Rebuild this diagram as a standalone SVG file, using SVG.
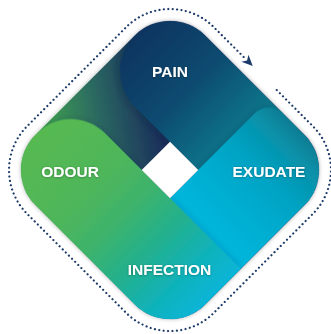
<svg xmlns="http://www.w3.org/2000/svg" width="331" height="334" viewBox="0 0 331 334">
<defs>
<style>
.lbl{font-family:"Liberation Sans",Arial,Helvetica,sans-serif;font-weight:bold;font-size:15.5px;fill:#fff;text-anchor:middle;filter:url(#ts)}
.dots{fill:none;stroke:#1c3a6a;stroke-width:2.2;stroke-linecap:round;stroke-dasharray:0 4.4}
</style>
<linearGradient id="gLeft" gradientUnits="userSpaceOnUse" x1="50" y1="215" x2="110" y2="130">
<stop offset="0" stop-color="#3b9753"/>
<stop offset="0.45" stop-color="#2a6662"/>
<stop offset="1" stop-color="#1a2e5a"/>
</linearGradient>
<linearGradient id="gPain" gradientUnits="userSpaceOnUse" x1="50" y1="0" x2="200" y2="0">
<stop offset="0" stop-color="#0f3560"/>
<stop offset="0.5" stop-color="#0b4a70"/>
<stop offset="1" stop-color="#077a8d"/>
</linearGradient>
<linearGradient id="gExu" gradientUnits="userSpaceOnUse" x1="0" y1="50" x2="0" y2="190">
<stop offset="0" stop-color="#077c92"/>
<stop offset="0.14" stop-color="#0890a8"/>
<stop offset="0.4" stop-color="#02a2c2"/>
<stop offset="0.72" stop-color="#00afd2"/>
<stop offset="1" stop-color="#00b6dd"/>
</linearGradient>
<linearGradient id="gBot" gradientUnits="userSpaceOnUse" x1="50" y1="0" x2="290" y2="0">
<stop offset="0" stop-color="#56b950"/>
<stop offset="0.33" stop-color="#4eb65b"/>
<stop offset="0.5" stop-color="#3db36c"/>
<stop offset="0.67" stop-color="#24b08c"/>
<stop offset="0.83" stop-color="#12b2b5"/>
<stop offset="1" stop-color="#06b5d8"/>
</linearGradient>
<clipPath id="clipD"><rect x="50" y="50" width="240" height="240" rx="50"/></clipPath>
<filter id="outerSh" x="-10%" y="-10%" width="120%" height="120%"><feDropShadow dx="0" dy="0" stdDeviation="2" flood-color="#000" flood-opacity="0.3"/></filter>
<filter id="painSh" x="-20%" y="-20%" width="140%" height="140%"><feDropShadow dx="0" dy="0" stdDeviation="5" flood-color="#0a1a3a" flood-opacity="0.55"/></filter>
<filter id="exuSh" x="-20%" y="-20%" width="140%" height="140%"><feDropShadow dx="0" dy="0" stdDeviation="4" flood-color="#0a1a3a" flood-opacity="0.25"/></filter>
<filter id="botSh" x="-20%" y="-20%" width="140%" height="140%"><feDropShadow dx="0" dy="0" stdDeviation="4" flood-color="#0a1a3a" flood-opacity="0.2"/></filter>
<filter id="ts" x="-10%" y="-30%" width="120%" height="160%"><feDropShadow dx="0" dy="0.5" stdDeviation="1" flood-color="#000" flood-opacity="0.35"/></filter>
</defs>
<g id="diamond" transform="rotate(45 170 170)">
<rect id="base" x="50" y="50" width="240" height="240" rx="50" fill="url(#gLeft)" filter="url(#outerSh)"/>
<g clip-path="url(#clipD)">
<path id="pain-shape" d="M100 150A50 50 0 0 1 50 100V50H230V150Z" fill="url(#gPain)" filter="url(#painSh)"/>
<path id="exudate-shape" d="M190 290V70A20 20 0 0 1 210 50H290V290Z" fill="url(#gExu)" filter="url(#exuSh)"/>
<path id="bottom-shape" d="M50 290V238A48 48 0 0 1 98 190H290V290Z" fill="url(#gBot)" filter="url(#botSh)"/>
</g>
<rect id="centre" x="150" y="150" width="40" height="40" fill="#fff"/>
</g>
<g id="connectors" transform="rotate(45 170 170)">
<path class="dots" d="M189 38H240A62 62 0 0 1 302 100V240A62 62 0 0 1 240 302H100A62 62 0 0 1 38 240V100A62 62 0 0 1 100 38H143"/>
<path d="M155 38L144 33L147 38L144 43Z" fill="#1c3a6a"/>
</g>
<g id="pain"><text class="lbl" x="170" y="77">PAIN</text></g>
<g id="exudate"><text class="lbl" x="269" y="176.5">EXUDATE</text></g>
<g id="odour"><text class="lbl" x="70" y="176.5">ODOUR</text></g>
<g id="infection"><text class="lbl" x="169.5" y="274.5">INFECTION</text></g>
</svg>
